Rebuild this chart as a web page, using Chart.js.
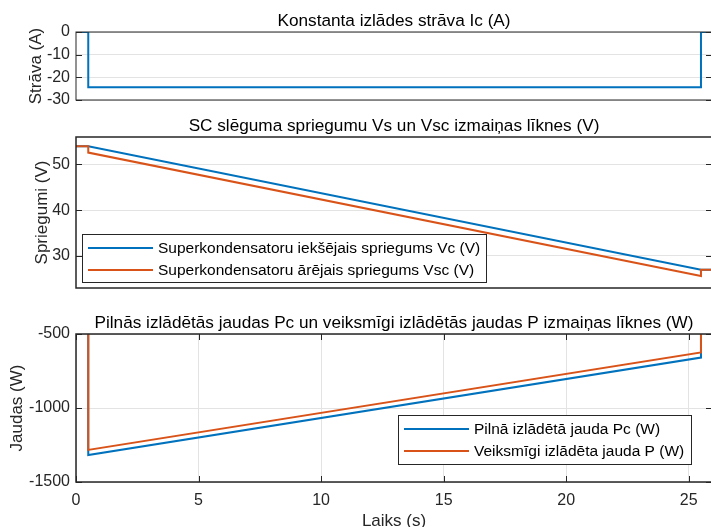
<!DOCTYPE html>
<html>
<head>
<meta charset="utf-8">
<script src="https://cdn.jsdelivr.net/npm/chart.js@4.4.1/dist/chart.umd.min.js"></script>
<style>
  html, body { margin: 0; padding: 0; background: #fff; overflow: hidden; }
  body { width: 711px; height: 527px; position: relative; }
  canvas { position: absolute; left: 0; }
</style>
</head>
<body>
<canvas id="chartCurrent" width="720" height="110" style="top:0px"></canvas>
<canvas id="chartVoltage" width="720" height="190" style="top:110px"></canvas>
<canvas id="chartPower" width="720" height="235" style="top:300px"></canvas>
<script>
// time breakpoints (s)
const tStep = [0, 0.5, 0.5, 25.5, 25.5, 26];
const tRamp = [0, 0.5, 25.5, 26];

// series values
const currentIc = [0, 0, -24.4, -24.4, 0, 0];
const voltageVc = [54, 54, 27.0, 27.0];
const voltageVsc = [54, 54, 52.6, 25.6, 27.0, 27.0];
const powerPc = [0, 0, -1318, -659, 0, 0];
const powerP = [0, 0, -1283, -625, 0, 0];

// axes
const xMax = 25.95;
const timeTicks = [0, 5, 10, 15, 20, 25];
const currentTicks = [-30, -20, -10, 0];
const voltageTicks = [30, 40, 50];
const powerTicks = [-1500, -1000, -500];

const FONT = '"Liberation Sans", Arial, Helvetica, sans-serif';
const INK = '#262626';
const BLUE = '#0072BD';
const ORANGE = '#D95319';
const GRID = '#e3e3e3';

function pts(ts, vs) {
    return ts.map((t, i) => ({ x: t, y: vs[i] }));
}

function line(ctx, x1, y1, x2, y2) {
    ctx.beginPath();
    ctx.moveTo(x1, y1);
    ctx.lineTo(x2, y2);
    ctx.stroke();
}

// MATLAB-like box, inward ticks, title and legend
const matlabAxes = {
    id: 'matlabAxes',
    afterDraw(chart, args, opts) {
        const ctx = chart.ctx;
        const a = chart.chartArea;
        ctx.save();
        ctx.strokeStyle = INK;
        ctx.lineWidth = 1;
        const ys = chart.scales.y;
        ys.ticks.forEach(t => {
            const py = Math.round(ys.getPixelForValue(t.value)) + 0.5;
            line(ctx, a.left, py, a.left + 6, py);
            line(ctx, a.right - 6, py, a.right, py);
        });
        if (opts.xTicks) {
            const xs = chart.scales.x;
            xs.ticks.forEach(t => {
                const px = Math.round(xs.getPixelForValue(t.value)) + 0.5;
                line(ctx, px, a.bottom, px, a.bottom - 6);
                line(ctx, px, a.top, px, a.top + 6);
            });
        }
        ctx.lineWidth = opts.boxWidth;
        ctx.strokeRect(a.left, a.top, a.right - a.left, a.bottom - a.top);

        ctx.fillStyle = '#000';
        ctx.font = '17.2px ' + FONT;
        ctx.textAlign = 'center';
        ctx.textBaseline = 'alphabetic';
        ctx.fillText(opts.title, (a.left + a.right) / 2, a.top - 6);

        if (opts.legend) {
            const L = opts.legend;
            const bx = a.left + L.dx, by = a.top + L.dy;
            ctx.fillStyle = '#fff';
            ctx.fillRect(bx, by, L.w, L.h);
            ctx.lineWidth = 1;
            ctx.strokeStyle = INK;
            ctx.strokeRect(bx + 0.5, by + 0.5, L.w, L.h);
            ctx.font = '15.5px ' + FONT;
            ctx.textAlign = 'left';
            ctx.textBaseline = 'middle';
            chart.data.datasets.forEach((ds, i) => {
                const ry = by + 14 + i * 22;
                ctx.strokeStyle = ds.borderColor;
                ctx.lineWidth = 2;
                line(ctx, bx + 6, ry, bx + 71, ry);
                ctx.fillStyle = '#000';
                ctx.fillText(ds.label, bx + 76, ry + 1);
            });
        }
        ctx.restore();
    }
};

function yScale(min, max, ticks, title, titlePad) {
    return {
        type: 'linear',
        min: min,
        max: max,
        afterBuildTicks: s => { s.ticks = ticks.map(v => ({ value: v })); },
        afterFit: s => {
            s.width = 76;
            s.paddingTop = 0;
            s.paddingBottom = 0;
        },
        grid: { color: GRID, drawTicks: false },
        border: { display: false },
        ticks: {
            color: INK, font: { family: FONT, size: 16 }, padding: 6,
            callback: v => String(v)
        },
        title: {
            display: true, text: title, color: INK,
            font: { family: FONT, size: 17 },
            padding: { top: titlePad, bottom: 0 }
        }
    };
}

function xScale(show) {
    return {
        type: 'linear',
        min: 0,
        max: xMax,
        display: show,
        afterBuildTicks: s => { s.ticks = timeTicks.map(v => ({ value: v })); },
        afterFit: s => {
            s.height = show ? 53 : 0;
            s.paddingLeft = 0;
            s.paddingRight = 0;
        },
        grid: { color: GRID, drawTicks: false },
        border: { display: false },
        ticks: {
            color: INK, font: { family: FONT, size: 16 }, padding: 9,
            callback: v => String(v)
        },
        title: {
            display: true, text: 'Laiks (s)', color: INK,
            font: { family: FONT, size: 17 },
            padding: { top: 0, bottom: 3 }
        }
    };
}

function ds(label, data, color, order) {
    return {
        label: label,
        data: data,
        borderColor: color,
        backgroundColor: color,
        borderWidth: 2,
        pointRadius: 0,
        tension: 0,
        fill: false,
        order: order
    };
}

function makeChart(id, datasets, y, xShow, padding, plugOpts) {
    return new Chart(document.getElementById(id).getContext('2d'), {
        type: 'line',
        data: { datasets: datasets },
        options: {
            responsive: false,
            animation: false,
            events: [],
            layout: { padding: padding },
            scales: { x: xScale(xShow), y: y },
            plugins: {
                legend: { display: false },
                title: { display: false },
                tooltip: { enabled: false },
                matlabAxes: plugOpts
            }
        },
        plugins: [matlabAxes]
    });
}

makeChart('chartCurrent',
    [ds('Ic', pts(tStep, currentIc), BLUE, 0)],
    yScale(-30, 0, currentTicks, 'Strāva (A)', 26),
    false,
    { top: 32, bottom: 10, left: 0, right: 8 },
    { title: 'Konstanta izlādes strāva Ic (A)', boxWidth: 1, xTicks: false });

makeChart('chartVoltage',
    [ds('Superkondensatoru iekšējais spriegums Vc (V)', pts(tRamp, voltageVc), BLUE, 1),
     ds('Superkondensatoru ārējais spriegums Vsc (V)', pts(tStep, voltageVsc), ORANGE, 0)],
    yScale(23, 56, voltageTicks, 'Spriegumi (V)', 32),
    false,
    { top: 27, bottom: 12, left: 0, right: 8 },
    { title: 'SC slēguma spriegumu Vs un Vsc izmaiņas līknes (V)', boxWidth: 1.5, xTicks: false,
      legend: { dx: 6, dy: 97, w: 404, h: 48 } });

makeChart('chartPower',
    [ds('Pilnā izlādētā jauda Pc (W)', pts(tStep, powerPc), BLUE, 1),
     ds('Veiksmīgi izlādēta jauda P (W)', pts(tStep, powerP), ORANGE, 0)],
    yScale(-1500, -500, powerTicks, 'Jaudas (W)', 7),
    true,
    { top: 34, bottom: 0, left: 0, right: 8 },
    { title: 'Pilnās izlādētās jaudas Pc un veiksmīgi izlādētās jaudas P izmaiņas līknes (W)', boxWidth: 1.5, xTicks: true,
      legend: { dx: 322, dy: 81, w: 293, h: 49 } });
</script>
</body>
</html>
